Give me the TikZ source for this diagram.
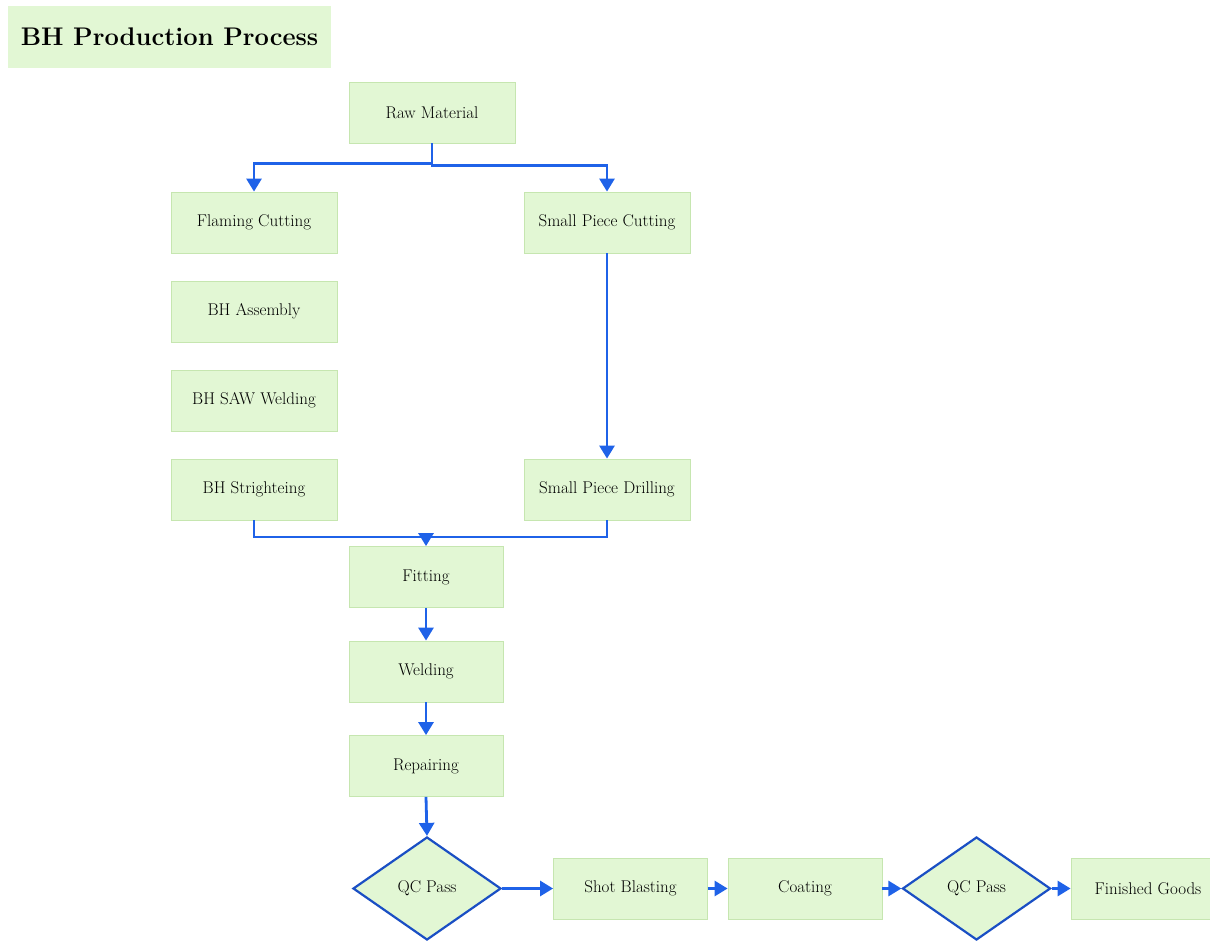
\documentclass[tikz,border=0pt]{standalone}
\usepackage{fontspec}
\usetikzlibrary{shapes.geometric,arrows.meta}
\definecolor{boxfill}{HTML}{E2F7D4}
\definecolor{boxline}{HTML}{C6E6B0}
\definecolor{flowblue}{HTML}{1F62E8}
\definecolor{diamondline}{HTML}{1A4FC4}
\begin{document}
\begin{tikzpicture}[x=1pt,y=-1pt,
  box/.style={draw=boxline,fill=boxfill,line width=0.8pt,minimum width=166pt,minimum height=61pt,inner sep=0pt,font=\fontsize{17}{20}\selectfont},
  narrow/.style={box,minimum width=154pt},
  decision/.style={diamond,draw=diamondline,fill=boxfill,line width=2.2pt,minimum width=148pt,minimum height=103pt,inner sep=0pt,font=\fontsize{17}{20}\selectfont},
  link/.style={draw=flowblue,line width=2.8pt},
  flow/.style={link,-{Triangle[width=15pt,length=13pt]}},
  titlebox/.style={fill=boxfill,minimum width=323pt,minimum height=62pt,inner sep=0pt,font=\fontsize{25.5}{30}\selectfont\bfseries}]
\useasboundingbox (0,0) rectangle (1210,941);

% title
\node[titlebox] (title) at (169.5,37) {BH Production Process};

% upper stages
\node[box] (raw) at (432,112.5) {Raw Material};
\node[box] (flame) at (254,222.5) {Flaming Cutting};
\node[box] (spc) at (607,222.5) {Small Piece Cutting};
\node[box] (assy) at (254,311.5) {BH Assembly};
\node[box] (saw) at (254,400.5) {BH SAW Welding};
\node[box] (strt) at (254,489.5) {BH Strighteing};
\node[box] (spd) at (607,489.5) {Small Piece Drilling};

% main line
\node[narrow] (fit) at (426,577) {Fitting};
\node[narrow] (weld) at (426,671.5) {Welding};
\node[narrow] (rep) at (426,766) {Repairing};
\node[decision] (qc1) at (427,888.5) {QC Pass};
\node[narrow] (shot) at (630.5,888.5) {Shot Blasting};
\node[narrow] (coat) at (805,888.5) {Coating};
\node[decision] (qc2) at (976.5,888.5) {QC Pass};
\node[narrow] (fin) at (1148,888.5) {Finished Goods};

% connectors
\draw[flow] (raw.south) -- ++(0,20) -| (flame.north);
\draw[flow] (raw.south) -- ++(0,22) -| (spc.north);
\draw[flow] (spc) -- (spd);
\coordinate (join) at (426,537);
\draw[link] (strt.south) |- (join) -| (spd.south);
\draw[flow] (join) -- (fit.north);
\draw[flow] (fit) -- (weld);
\draw[flow] (weld) -- (rep);
\draw[flow] (rep.south) -- (qc1.north);
\draw[flow] (qc1) -- (shot);
\draw[flow] (shot) -- (coat);
\draw[flow] (coat) -- (qc2);
\draw[flow] (qc2) -- (fin);
\end{tikzpicture}
\end{document}
